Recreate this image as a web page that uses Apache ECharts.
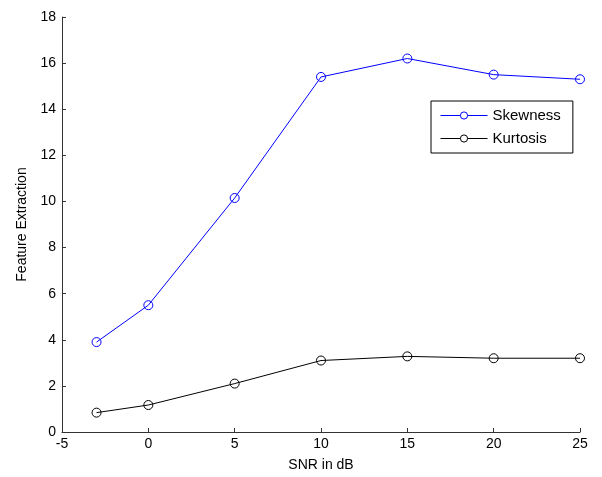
<!DOCTYPE html>
<html>
<head>
<meta charset="utf-8">
<script src="https://cdn.jsdelivr.net/npm/echarts@6/dist/echarts.min.js"></script>
<style>
html,body{margin:0;padding:0;background:#fff;}
#main{width:602px;height:477px;}
</style>
</head>
<body>
<div id="main"></div>
<script>
// 数据
var snr = [-3, 0, 5, 10, 15, 20, 25];
var skewness = [3.9, 5.5, 10.15, 15.4, 16.2, 15.5, 15.3];
var kurtosis = [0.84, 1.17, 2.1, 3.1, 3.28, 3.2, 3.2];

function pairs(xs, ys) {
	var out = [];
	for (var i = 0; i < xs.length; i++) {
		out.push([xs[i], ys[i]]);
	}
	return out;
}

var myChart = echarts.init(document.getElementById("main"));
var fontName = "Liberation Sans";
var option = {
	animation: false,
	textStyle: { fontFamily: fontName },
	grid: {
		left: 62,
		right: 22,
		top: 17,
		bottom: 44
	},
	legend: {
		left: 431,
		top: 101,
		orient: 'vertical',
		backgroundColor: '#fff',
		borderColor: '#000',
		borderWidth: 1,
		padding: [7, 12, 7, 9],
		itemGap: 8,
		itemWidth: 47,
		itemHeight: 9,
		itemStyle: { borderWidth: 1, color: '#fff' },
		lineStyle: { width: 1 },
		textStyle: { fontFamily: fontName, fontSize: 15, color: '#000' },
		data: ['Skewness', 'Kurtosis']
	},
	xAxis: {
		type: 'value',
		min: -5,
		max: 25,
		interval: 5,
		name: 'SNR in dB',
		nameLocation: 'middle',
		nameGap: 26,
		nameTextStyle: { fontFamily: fontName, fontSize: 14, color: '#000' },
		axisLine: { onZero: false, lineStyle: { color: '#333', width: 1 } },
		axisTick: { inside: true, length: 4, lineStyle: { color: '#333' } },
		axisLabel: { fontFamily: fontName, fontSize: 14, color: '#000', margin: 5 },
		splitLine: { show: false }
	},
	yAxis: {
		type: 'value',
		min: 0,
		max: 18,
		interval: 2,
		name: 'Feature Extraction',
		nameLocation: 'middle',
		nameGap: 33,
		nameTextStyle: { fontFamily: fontName, fontSize: 14, color: '#000' },
		axisLine: { show: true, onZero: false, lineStyle: { color: '#333', width: 1 } },
		axisTick: { show: true, inside: true, length: 4, lineStyle: { color: '#333' } },
		axisLabel: { fontFamily: fontName, fontSize: 14, color: '#000', margin: 6 },
		splitLine: { show: false }
	},
	series: [
		{
			name: 'Skewness',
			type: 'line',
			data: pairs(snr, skewness),
			symbol: 'circle',
			symbolSize: 9,
			color: '#0000ff',
			lineStyle: { width: 1, color: '#0000ff' },
			itemStyle: { color: 'rgba(255,255,255,0)', borderColor: '#0000ff', borderWidth: 1 }
		},
		{
			name: 'Kurtosis',
			type: 'line',
			data: pairs(snr, kurtosis),
			symbol: 'circle',
			symbolSize: 9,
			color: '#000',
			lineStyle: { width: 1, color: '#000' },
			itemStyle: { color: 'rgba(255,255,255,0)', borderColor: '#000', borderWidth: 1 }
		}
	]
};
myChart.setOption(option, true);
</script>
</body>
</html>
